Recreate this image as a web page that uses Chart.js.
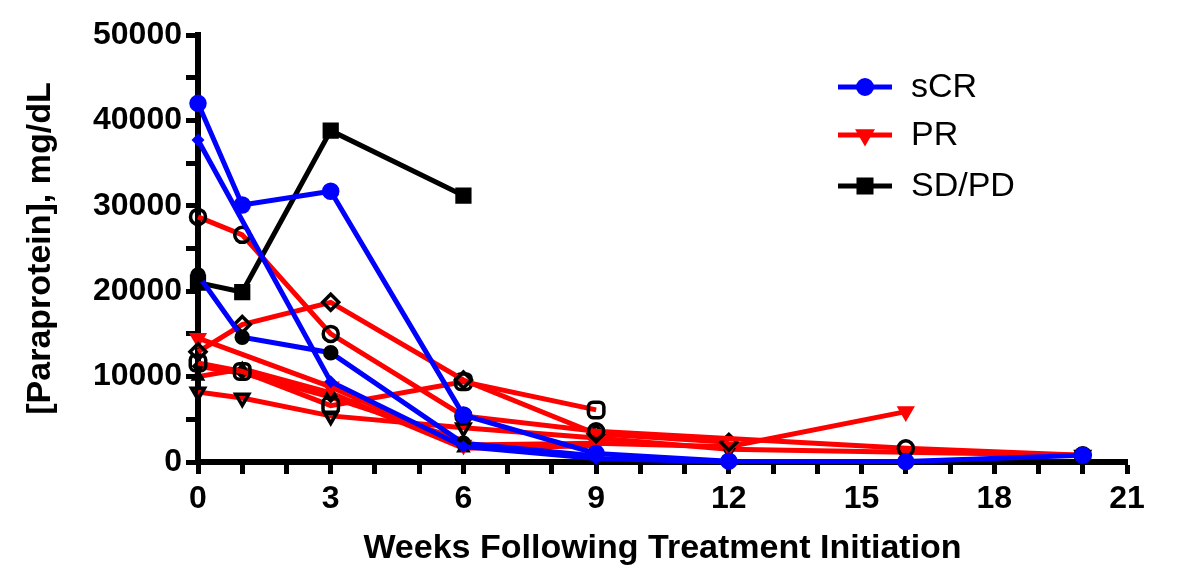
<!DOCTYPE html>
<html>
<head>
<meta charset="utf-8">
<script src="https://cdn.jsdelivr.net/npm/chart.js@4/dist/chart.umd.min.js"></script>
<style>
  html, body { margin: 0; background: #fff; }
</style>
</head>
<body>
<canvas id="chart" width="1200" height="587"></canvas>
<script>
// weeks after treatment start and paraprotein (mg/dL) per patient
const weeksScr1 = [0, 1, 3, 6, 9, 12, 16, 20];
const paraScr1 = [42000, 30100, 31700, 5500, 1000, 100, 50, 800];
const weeksScr2 = [0, 3, 6, 9, 12];
const paraScr2 = [37700, 9400, 1800, 400, 0];
const weeksScr3 = [0, 1, 3, 6, 9];
const paraScr3 = [21900, 14600, 12800, 2200, 700];

const weeksSd1 = [0, 1, 3, 6];
const paraSd1 = [21000, 19900, 38800, 31200];

const weeksPrCircle = [0, 1, 3, 6, 9, 16, 20];
const paraPrCircle = [28700, 26600, 15000, 5400, 3600, 1600, 800];
const weeksPrDiamond = [0, 1, 3, 6, 9, 12];
const paraPrDiamond = [12900, 16100, 18700, 9600, 3300, 2300];
const weeksPrSquare = [0, 1, 3, 6, 9];
const paraPrSquare = [11600, 10600, 6600, 9400, 6100];
const weeksPrTri = [0, 3, 6, 9, 12, 16];
const paraPrTri = [14500, 8800, 2000, 2200, 1800, 5900];
const weeksPrOpenTri = [0, 1, 3, 6, 9, 12, 20];
const paraPrOpenTri = [8200, 7500, 5400, 4000, 2800, 1500, 800];
const weeksPrOther1 = [0, 1, 3, 6, 9];
const paraPrOther1 = [10000, 10900, 8100, 1600, 1900];
const weeksPrOther2 = [0, 1, 3, 6];
const paraPrOther2 = [11200, 10400, 7600, 2500];

const xTicks = [0, 3, 6, 9, 12, 15, 18, 21];
const yTicks = [0, 10000, 20000, 30000, 40000, 50000];

const legendLabels = ['sCR', 'PR', 'SD/PD'];

const BLUE = '#0000ff';
const RED = '#ff0000';
const BLACK = '#000000';
const NONE = 'rgba(0,0,0,0)';

function pts(weeks, vals) {
  return weeks.map((w, i) => ({ x: w, y: vals[i] }));
}

function series(weeks, vals, color, style) {
  return Object.assign({
    data: pts(weeks, vals),
    borderColor: color,
    borderWidth: 5,
    tension: 0,
    clip: false,
    pointStyle: 'circle',
    pointRadius: 7,
    pointBorderWidth: 3.5,
    pointBorderColor: BLACK,
    pointBackgroundColor: NONE,
    pointRotation: 0
  }, style);
}

const datasets = [
  series(weeksScr1, paraScr1, BLUE, { pointBorderColor: BLUE, pointBackgroundColor: BLUE, pointRadius: 7 }),
  series(weeksScr2, paraScr2, BLUE, { pointStyle: 'rectRot', pointBorderColor: BLUE, pointBackgroundColor: BLUE, pointRadius: 4 }),
  series(weeksScr3, paraScr3, BLUE, { pointBackgroundColor: BLACK, pointRadius: 6 }),
  series(weeksSd1, paraSd1, BLACK, { pointStyle: 'rect', pointBackgroundColor: BLACK, pointRadius: 9 }),
  series(weeksPrCircle, paraPrCircle, RED, { pointRadius: 7.5 }),
  series(weeksPrDiamond, paraPrDiamond, RED, { pointStyle: 'rectRot', pointRadius: 8 }),
  series(weeksPrSquare, paraPrSquare, RED, { pointStyle: 'rectRounded', pointRadius: 9 }),
  series(weeksPrTri, paraPrTri, RED, { pointStyle: 'triangle', pointRotation: 180, pointBorderColor: RED, pointBackgroundColor: RED, pointRadius: 7 }),
  series(weeksPrOpenTri, paraPrOpenTri, RED, { pointStyle: 'triangle', pointRotation: 180, pointRadius: 7.5 }),
  series(weeksPrOther1, paraPrOther1, RED, { pointStyle: 'triangle', pointBackgroundColor: BLACK, pointRadius: 5 }),
  series(weeksPrOther2, paraPrOther2, RED, { pointStyle: 'rectRot', pointBackgroundColor: BLACK, pointRadius: 4 })
];

// legend drawn inside the plot, top right
const legendPlugin = {
  id: 'insideLegend',
  afterDraw(chart) {
    const ctx = chart.ctx;
    const items = [
      { text: legendLabels[0], color: BLUE, style: 'circle', rot: 0, r: 6.5 },
      { text: legendLabels[1], color: RED, style: 'triangle', rot: 180, r: 6.5 },
      { text: legendLabels[2], color: BLACK, style: 'rect', rot: 0, r: 8.5 }
    ];
    const ys = [87, 135, 186];
    ctx.save();
    items.forEach((it, i) => {
      const y = ys[i];
      ctx.strokeStyle = it.color;
      ctx.lineWidth = 5;
      ctx.beginPath();
      ctx.moveTo(838, y);
      ctx.lineTo(892, y);
      ctx.stroke();
      ctx.fillStyle = it.color;
      Chart.helpers.drawPoint(ctx, { pointStyle: it.style, rotation: it.rot, radius: it.r, borderWidth: 1 }, 865, y);
      ctx.fillStyle = BLACK;
      ctx.font = '34px "Liberation Sans", Arial, sans-serif';
      ctx.textBaseline = 'middle';
      ctx.textAlign = 'left';
      ctx.fillText(it.text, 911, y + 1);
    });
    ctx.restore();
  }
};

const tickFont = { family: '"Liberation Sans", Arial, sans-serif', size: 32, weight: 'bold' };
const titleFont = { family: '"Liberation Sans", Arial, sans-serif', size: 34, weight: 'bold' };

new Chart(document.getElementById('chart'), {
  type: 'line',
  data: { datasets: datasets },
  options: {
    responsive: false,
    animation: false,
    layout: { padding: { top: 35, right: 73, left: 0, bottom: 0 } },
    plugins: {
      legend: { display: false },
      tooltip: { enabled: false }
    },
    scales: {
      x: {
        type: 'linear',
        min: 0,
        max: 21,
        border: { display: true, color: BLACK, width: 6 },
        grid: { drawOnChartArea: false, color: BLACK, tickLength: 12, tickWidth: 5 },
        ticks: {
          stepSize: 1,
          color: BLACK,
          font: tickFont,
          padding: 6,
          maxRotation: 0,
          autoSkip: false,
          callback: v => xTicks.includes(v) ? String(v) : ''
        },
        title: {
          display: true,
          text: 'Weeks Following Treatment Initiation',
          color: BLACK,
          font: titleFont,
          padding: { top: 0, bottom: 18 }
        },
        afterFit: s => { s.height = 125; }
      },
      y: {
        min: 0,
        max: 50000,
        border: { display: true, color: BLACK, width: 6 },
        grid: { drawOnChartArea: false, color: BLACK, tickLength: 12, tickWidth: 5 },
        ticks: {
          stepSize: 5000,
          color: BLACK,
          font: tickFont,
          padding: 4,
          autoSkip: false,
          callback: v => yTicks.includes(v) ? String(v) : ''
        },
        title: {
          display: true,
          text: '[Paraprotein], mg/dL',
          color: BLACK,
          font: titleFont,
          padding: { top: 20, bottom: 0 }
        },
        afterFit: s => { s.width = 198; }
      }
    }
  },
  plugins: [legendPlugin]
});
</script>
</body>
</html>
